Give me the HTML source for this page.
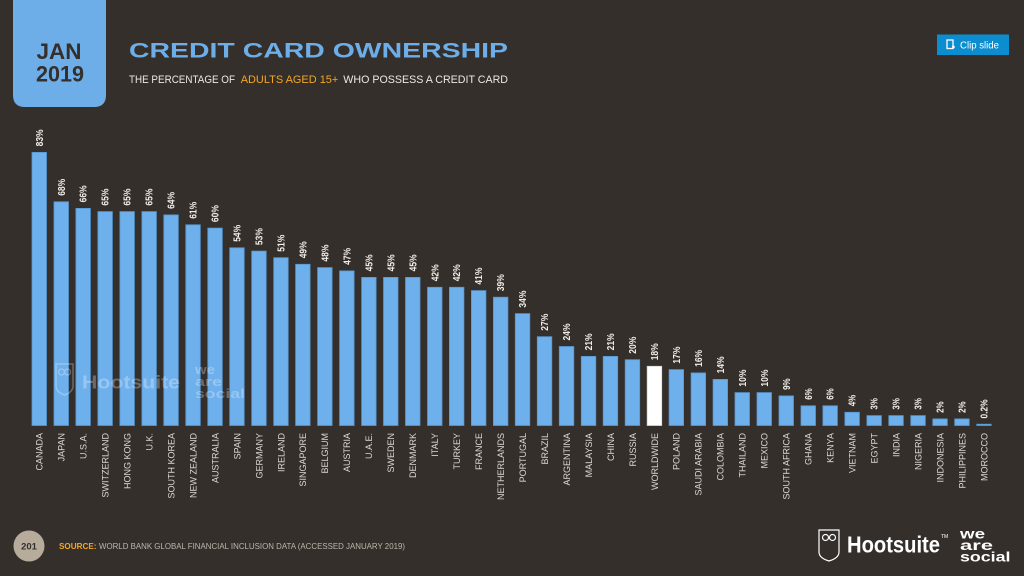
<!DOCTYPE html>
<html><head><meta charset="utf-8"><style>
html,body{margin:0;padding:0;background:#352f2b;}
svg{display:block;}
.v{font-family:"Liberation Sans Narrow","Liberation Sans",sans-serif;font-weight:bold;font-size:10px;fill:#f0ece6;}
.x{font-family:"Liberation Sans",sans-serif;font-size:9px;fill:#dcd7d1;text-anchor:end;}
.b{fill:#6db0ec;stroke:#5597d2;stroke-width:0.8;}
</style></head><body>
<svg width="1024" height="576" viewBox="0 0 1024 576" xmlns="http://www.w3.org/2000/svg">
<rect width="1024" height="576" fill="#352f2b"/>
<!-- date box -->
<path d="M13 0 H106 V95 Q106 107 94 107 H25 Q13 107 13 95 Z" fill="#6daee9"/>
<text x="59" y="59" text-anchor="middle" font-family="Liberation Sans,sans-serif" font-weight="bold" font-size="22" fill="#352f2b" textLength="45" lengthAdjust="spacingAndGlyphs">JAN</text>
<text x="60" y="81.5" text-anchor="middle" font-family="Liberation Sans,sans-serif" font-weight="bold" font-size="22" fill="#352f2b" textLength="48" lengthAdjust="spacingAndGlyphs">2019</text>
<!-- title -->
<text x="129" y="57.5" font-family="Liberation Sans,sans-serif" font-weight="bold" font-size="21" fill="#6daee9" textLength="379" lengthAdjust="spacingAndGlyphs">CREDIT CARD OWNERSHIP</text>
<text x="129" y="83" font-family="Liberation Sans,sans-serif" font-size="11" fill="#ece8e3" textLength="106" lengthAdjust="spacingAndGlyphs">THE PERCENTAGE OF</text>
<text x="240.7" y="83" font-family="Liberation Sans,sans-serif" font-size="11" fill="#f5a623" textLength="97.6" lengthAdjust="spacingAndGlyphs">ADULTS AGED 15+</text>
<text x="343.3" y="83" font-family="Liberation Sans,sans-serif" font-size="11" fill="#ece8e3" textLength="164.7" lengthAdjust="spacingAndGlyphs">WHO POSSESS A CREDIT CARD</text>
<!-- clip slide -->
<rect x="937" y="34.5" width="72" height="20.5" fill="#0b8dcf"/>
<rect x="947" y="40" width="6" height="8.5" fill="none" stroke="#fff" stroke-width="1.3"/>
<path d="M952 47 h3 M953.5 45.5 v3" stroke="#fff" stroke-width="1.2"/>
<text x="960" y="48.5" font-family="Liberation Sans,sans-serif" font-size="10" fill="#fff" textLength="39" lengthAdjust="spacingAndGlyphs">Clip slide</text>

<!-- bars -->
<g>
<rect class="b" x="32.0" y="152.4" width="14.5" height="273.1"/>
<rect class="b" x="54.0" y="201.8" width="14.5" height="223.7"/>
<rect class="b" x="75.9" y="208.4" width="14.5" height="217.1"/>
<rect class="b" x="97.9" y="211.6" width="14.5" height="213.9"/>
<rect class="b" x="119.9" y="211.6" width="14.5" height="213.9"/>
<rect class="b" x="141.9" y="211.6" width="14.5" height="213.9"/>
<rect class="b" x="163.8" y="214.9" width="14.5" height="210.6"/>
<rect class="b" x="185.8" y="224.8" width="14.5" height="200.7"/>
<rect class="b" x="207.8" y="228.1" width="14.5" height="197.4"/>
<rect class="b" x="229.7" y="247.8" width="14.5" height="177.7"/>
<rect class="b" x="251.7" y="251.1" width="14.5" height="174.4"/>
<rect class="b" x="273.7" y="257.7" width="14.5" height="167.8"/>
<rect class="b" x="295.6" y="264.3" width="14.5" height="161.2"/>
<rect class="b" x="317.6" y="267.6" width="14.5" height="157.9"/>
<rect class="b" x="339.6" y="270.9" width="14.5" height="154.6"/>
<rect class="b" x="361.6" y="277.4" width="14.5" height="148.1"/>
<rect class="b" x="383.5" y="277.4" width="14.5" height="148.1"/>
<rect class="b" x="405.5" y="277.4" width="14.5" height="148.1"/>
<rect class="b" x="427.5" y="287.3" width="14.5" height="138.2"/>
<rect class="b" x="449.4" y="287.3" width="14.5" height="138.2"/>
<rect class="b" x="471.4" y="290.6" width="14.5" height="134.9"/>
<rect class="b" x="493.4" y="297.2" width="14.5" height="128.3"/>
<rect class="b" x="515.3" y="313.6" width="14.5" height="111.9"/>
<rect class="b" x="537.3" y="336.7" width="14.5" height="88.8"/>
<rect class="b" x="559.3" y="346.5" width="14.5" height="79.0"/>
<rect class="b" x="581.3" y="356.4" width="14.5" height="69.1"/>
<rect class="b" x="603.2" y="356.4" width="14.5" height="69.1"/>
<rect class="b" x="625.2" y="359.7" width="14.5" height="65.8"/>
<rect x="647.2" y="366.3" width="14.5" height="59.2" fill="#ffffff" stroke="#d8d8d8" stroke-width="0.8"/>
<rect class="b" x="669.1" y="369.6" width="14.5" height="55.9"/>
<rect class="b" x="691.1" y="372.9" width="14.5" height="52.6"/>
<rect class="b" x="713.1" y="379.4" width="14.5" height="46.1"/>
<rect class="b" x="735.0" y="392.6" width="14.5" height="32.9"/>
<rect class="b" x="757.0" y="392.6" width="14.5" height="32.9"/>
<rect class="b" x="779.0" y="395.9" width="14.5" height="29.6"/>
<rect class="b" x="801.0" y="405.8" width="14.5" height="19.7"/>
<rect class="b" x="822.9" y="405.8" width="14.5" height="19.7"/>
<rect class="b" x="844.9" y="412.3" width="14.5" height="13.2"/>
<rect class="b" x="866.9" y="415.6" width="14.5" height="9.9"/>
<rect class="b" x="888.8" y="415.6" width="14.5" height="9.9"/>
<rect class="b" x="910.8" y="415.6" width="14.5" height="9.9"/>
<rect class="b" x="932.8" y="418.9" width="14.5" height="6.6"/>
<rect class="b" x="954.7" y="418.9" width="14.5" height="6.6"/>
<rect class="b" x="976.7" y="424.2" width="14.5" height="1.3"/>
</g>

<!-- watermark -->
<g opacity="0.28" fill="#ffffff">
<path d="M56 364 h17 v22 q0 6 -8.5 9 q-8.5 -3 -8.5 -9 Z" fill="none" stroke="#fff" stroke-width="1.5"/>
<circle cx="61.5" cy="372" r="3" fill="none" stroke="#fff" stroke-width="1.3"/>
<circle cx="67.5" cy="372" r="3" fill="none" stroke="#fff" stroke-width="1.3"/>
<text x="82" y="388.5" font-family="Liberation Sans,sans-serif" font-weight="bold" font-size="18" textLength="98" lengthAdjust="spacingAndGlyphs">Hootsuite</text>
<text x="195" y="374" font-family="Liberation Sans,sans-serif" font-weight="bold" font-size="13" textLength="20" lengthAdjust="spacingAndGlyphs">we</text>
<text x="195" y="386" font-family="Liberation Sans,sans-serif" font-weight="bold" font-size="13" textLength="27" lengthAdjust="spacingAndGlyphs">are</text>
<text x="195" y="398" font-family="Liberation Sans,sans-serif" font-weight="bold" font-size="13" textLength="50" lengthAdjust="spacingAndGlyphs">social</text>
</g>

<!-- value labels -->
<g class="v">
<text transform="translate(42.8,146.4) rotate(-90)" textLength="17" lengthAdjust="spacingAndGlyphs">83%</text>
<text transform="translate(64.8,195.8) rotate(-90)" textLength="17" lengthAdjust="spacingAndGlyphs">68%</text>
<text transform="translate(86.7,202.4) rotate(-90)" textLength="17" lengthAdjust="spacingAndGlyphs">66%</text>
<text transform="translate(108.7,205.6) rotate(-90)" textLength="17" lengthAdjust="spacingAndGlyphs">65%</text>
<text transform="translate(130.7,205.6) rotate(-90)" textLength="17" lengthAdjust="spacingAndGlyphs">65%</text>
<text transform="translate(152.7,205.6) rotate(-90)" textLength="17" lengthAdjust="spacingAndGlyphs">65%</text>
<text transform="translate(174.6,208.9) rotate(-90)" textLength="17" lengthAdjust="spacingAndGlyphs">64%</text>
<text transform="translate(196.6,218.8) rotate(-90)" textLength="17" lengthAdjust="spacingAndGlyphs">61%</text>
<text transform="translate(218.6,222.1) rotate(-90)" textLength="17" lengthAdjust="spacingAndGlyphs">60%</text>
<text transform="translate(240.5,241.8) rotate(-90)" textLength="17" lengthAdjust="spacingAndGlyphs">54%</text>
<text transform="translate(262.5,245.1) rotate(-90)" textLength="17" lengthAdjust="spacingAndGlyphs">53%</text>
<text transform="translate(284.5,251.7) rotate(-90)" textLength="17" lengthAdjust="spacingAndGlyphs">51%</text>
<text transform="translate(306.4,258.3) rotate(-90)" textLength="17" lengthAdjust="spacingAndGlyphs">49%</text>
<text transform="translate(328.4,261.6) rotate(-90)" textLength="17" lengthAdjust="spacingAndGlyphs">48%</text>
<text transform="translate(350.4,264.9) rotate(-90)" textLength="17" lengthAdjust="spacingAndGlyphs">47%</text>
<text transform="translate(372.4,271.4) rotate(-90)" textLength="17" lengthAdjust="spacingAndGlyphs">45%</text>
<text transform="translate(394.3,271.4) rotate(-90)" textLength="17" lengthAdjust="spacingAndGlyphs">45%</text>
<text transform="translate(416.3,271.4) rotate(-90)" textLength="17" lengthAdjust="spacingAndGlyphs">45%</text>
<text transform="translate(438.3,281.3) rotate(-90)" textLength="17" lengthAdjust="spacingAndGlyphs">42%</text>
<text transform="translate(460.2,281.3) rotate(-90)" textLength="17" lengthAdjust="spacingAndGlyphs">42%</text>
<text transform="translate(482.2,284.6) rotate(-90)" textLength="17" lengthAdjust="spacingAndGlyphs">41%</text>
<text transform="translate(504.2,291.2) rotate(-90)" textLength="17" lengthAdjust="spacingAndGlyphs">39%</text>
<text transform="translate(526.1,307.6) rotate(-90)" textLength="17" lengthAdjust="spacingAndGlyphs">34%</text>
<text transform="translate(548.1,330.7) rotate(-90)" textLength="17" lengthAdjust="spacingAndGlyphs">27%</text>
<text transform="translate(570.1,340.5) rotate(-90)" textLength="17" lengthAdjust="spacingAndGlyphs">24%</text>
<text transform="translate(592.1,350.4) rotate(-90)" textLength="17" lengthAdjust="spacingAndGlyphs">21%</text>
<text transform="translate(614.0,350.4) rotate(-90)" textLength="17" lengthAdjust="spacingAndGlyphs">21%</text>
<text transform="translate(636.0,353.7) rotate(-90)" textLength="17" lengthAdjust="spacingAndGlyphs">20%</text>
<text transform="translate(658.0,360.3) rotate(-90)" textLength="17" lengthAdjust="spacingAndGlyphs">18%</text>
<text transform="translate(679.9,363.6) rotate(-90)" textLength="17" lengthAdjust="spacingAndGlyphs">17%</text>
<text transform="translate(701.9,366.9) rotate(-90)" textLength="17" lengthAdjust="spacingAndGlyphs">16%</text>
<text transform="translate(723.9,373.4) rotate(-90)" textLength="17" lengthAdjust="spacingAndGlyphs">14%</text>
<text transform="translate(745.8,386.6) rotate(-90)" textLength="17" lengthAdjust="spacingAndGlyphs">10%</text>
<text transform="translate(767.8,386.6) rotate(-90)" textLength="17" lengthAdjust="spacingAndGlyphs">10%</text>
<text transform="translate(789.8,389.9) rotate(-90)" textLength="11.5" lengthAdjust="spacingAndGlyphs">9%</text>
<text transform="translate(811.8,399.8) rotate(-90)" textLength="11.5" lengthAdjust="spacingAndGlyphs">6%</text>
<text transform="translate(833.7,399.8) rotate(-90)" textLength="11.5" lengthAdjust="spacingAndGlyphs">6%</text>
<text transform="translate(855.7,406.3) rotate(-90)" textLength="11.5" lengthAdjust="spacingAndGlyphs">4%</text>
<text transform="translate(877.7,409.6) rotate(-90)" textLength="11.5" lengthAdjust="spacingAndGlyphs">3%</text>
<text transform="translate(899.6,409.6) rotate(-90)" textLength="11.5" lengthAdjust="spacingAndGlyphs">3%</text>
<text transform="translate(921.6,409.6) rotate(-90)" textLength="11.5" lengthAdjust="spacingAndGlyphs">3%</text>
<text transform="translate(943.6,412.9) rotate(-90)" textLength="11.5" lengthAdjust="spacingAndGlyphs">2%</text>
<text transform="translate(965.5,412.9) rotate(-90)" textLength="11.5" lengthAdjust="spacingAndGlyphs">2%</text>
<text transform="translate(987.5,418.5) rotate(-90)" textLength="19" lengthAdjust="spacingAndGlyphs">0.2%</text>
</g>

<!-- x labels -->
<g class="x">
<text transform="translate(42.6,433) rotate(-90)">CANADA</text>
<text transform="translate(64.6,433) rotate(-90)">JAPAN</text>
<text transform="translate(86.5,433) rotate(-90)">U.S.A.</text>
<text transform="translate(108.5,433) rotate(-90)">SWITZERLAND</text>
<text transform="translate(130.5,433) rotate(-90)">HONG KONG</text>
<text transform="translate(152.5,433) rotate(-90)">U.K.</text>
<text transform="translate(174.4,433) rotate(-90)">SOUTH KOREA</text>
<text transform="translate(196.4,433) rotate(-90)">NEW ZEALAND</text>
<text transform="translate(218.4,433) rotate(-90)">AUSTRALIA</text>
<text transform="translate(240.3,433) rotate(-90)">SPAIN</text>
<text transform="translate(262.3,433) rotate(-90)">GERMANY</text>
<text transform="translate(284.3,433) rotate(-90)">IRELAND</text>
<text transform="translate(306.2,433) rotate(-90)">SINGAPORE</text>
<text transform="translate(328.2,433) rotate(-90)">BELGIUM</text>
<text transform="translate(350.2,433) rotate(-90)">AUSTRIA</text>
<text transform="translate(372.2,433) rotate(-90)">U.A.E.</text>
<text transform="translate(394.1,433) rotate(-90)">SWEDEN</text>
<text transform="translate(416.1,433) rotate(-90)">DENMARK</text>
<text transform="translate(438.1,433) rotate(-90)">ITALY</text>
<text transform="translate(460.0,433) rotate(-90)">TURKEY</text>
<text transform="translate(482.0,433) rotate(-90)">FRANCE</text>
<text transform="translate(504.0,433) rotate(-90)">NETHERLANDS</text>
<text transform="translate(525.9,433) rotate(-90)">PORTUGAL</text>
<text transform="translate(547.9,433) rotate(-90)">BRAZIL</text>
<text transform="translate(569.9,433) rotate(-90)">ARGENTINA</text>
<text transform="translate(591.9,433) rotate(-90)">MALAYSIA</text>
<text transform="translate(613.8,433) rotate(-90)">CHINA</text>
<text transform="translate(635.8,433) rotate(-90)">RUSSIA</text>
<text transform="translate(657.8,433) rotate(-90)">WORLDWIDE</text>
<text transform="translate(679.7,433) rotate(-90)">POLAND</text>
<text transform="translate(701.7,433) rotate(-90)">SAUDI ARABIA</text>
<text transform="translate(723.7,433) rotate(-90)">COLOMBIA</text>
<text transform="translate(745.6,433) rotate(-90)">THAILAND</text>
<text transform="translate(767.6,433) rotate(-90)">MEXICO</text>
<text transform="translate(789.6,433) rotate(-90)">SOUTH AFRICA</text>
<text transform="translate(811.6,433) rotate(-90)">GHANA</text>
<text transform="translate(833.5,433) rotate(-90)">KENYA</text>
<text transform="translate(855.5,433) rotate(-90)">VIETNAM</text>
<text transform="translate(877.5,433) rotate(-90)">EGYPT</text>
<text transform="translate(899.4,433) rotate(-90)">INDIA</text>
<text transform="translate(921.4,433) rotate(-90)">NIGERIA</text>
<text transform="translate(943.4,433) rotate(-90)">INDONESIA</text>
<text transform="translate(965.3,433) rotate(-90)">PHILIPPINES</text>
<text transform="translate(987.3,433) rotate(-90)">MOROCCO</text>
</g>

<!-- footer -->
<circle cx="29" cy="546" r="15.5" fill="#b7ab9c"/>
<text x="29" y="549.5" text-anchor="middle" font-family="Liberation Sans,sans-serif" font-weight="bold" font-size="9.5" fill="#352f2b">201</text>
<text x="59" y="549" font-family="Liberation Sans,sans-serif" font-weight="bold" font-size="8" fill="#f5a623" textLength="37.5" lengthAdjust="spacingAndGlyphs">SOURCE:</text>
<text x="99" y="549" font-family="Liberation Sans,sans-serif" font-size="8" fill="#bdb5ac" textLength="306" lengthAdjust="spacingAndGlyphs">WORLD BANK GLOBAL FINANCIAL INCLUSION DATA (ACCESSED JANUARY 2019)</text>

<!-- bottom-right logo -->
<g fill="#ffffff">
<path d="M819 530 h20 v22 q0 6 -10 9 q-10 -3 -10 -9 Z" fill="none" stroke="#fff" stroke-width="1.2"/>
<circle cx="825.5" cy="537.5" r="3" fill="none" stroke="#fff" stroke-width="1.2"/>
<circle cx="832.5" cy="537.5" r="3" fill="none" stroke="#fff" stroke-width="1.2"/>
<text x="847" y="552.7" font-family="Liberation Sans,sans-serif" font-weight="bold" font-size="23" textLength="93" lengthAdjust="spacingAndGlyphs">Hootsuite</text>
<text x="941" y="538" font-family="Liberation Sans,sans-serif" font-size="5">TM</text>
<text x="960" y="538.5" font-family="Liberation Sans,sans-serif" font-weight="bold" font-size="14" textLength="25" lengthAdjust="spacingAndGlyphs">we</text>
<text x="960" y="550" font-family="Liberation Sans,sans-serif" font-weight="bold" font-size="14" textLength="33" lengthAdjust="spacingAndGlyphs">are</text>
<text x="960" y="561.5" font-family="Liberation Sans,sans-serif" font-weight="bold" font-size="14" textLength="50.5" lengthAdjust="spacingAndGlyphs">social</text>
</g>
</svg>
</body></html>
